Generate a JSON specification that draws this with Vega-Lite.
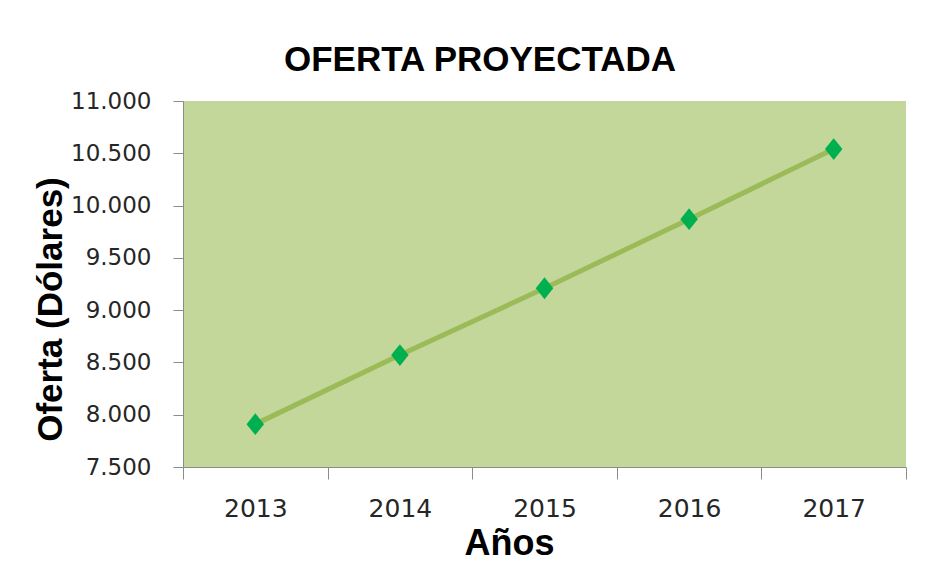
{
  "$schema": "https://vega.github.io/schema/vega-lite/v6.json",
  "width": 723,
  "height": 366,
  "padding": {"left": 33, "top": 43, "right": 30, "bottom": 10},
  "background": "white",
  "config": {
    "view": {"fill": "#C4D79B", "stroke": null}
  },
  "title": {
    "text": "OFERTA PROYECTADA",
    "font": "Liberation Sans",
    "fontSize": 35,
    "fontWeight": "bold",
    "color": "black",
    "anchor": "middle",
    "frame": "bounds",
    "offset": 12,
    "dx": 10
  },
  "data": {
    "values": [
      {"anio": "2013", "oferta": 7910},
      {"anio": "2014", "oferta": 8570},
      {"anio": "2015", "oferta": 9210},
      {"anio": "2016", "oferta": 9870},
      {"anio": "2017", "oferta": 10540}
    ]
  },
  "encoding": {
    "x": {
      "field": "anio",
      "type": "ordinal",
      "title": "Años",
      "scale": {"type": "band", "paddingInner": 0, "paddingOuter": 0},
      "axis": {
        "labelAngle": 0,
        "labelFont": "DejaVu Sans",
        "labelFontSize": 25,
        "labelColor": "#262626",
        "labelPadding": 17,
        "tickBand": "extent",
        "tickSize": 12,
        "tickColor": "#8C8C8C",
        "domainColor": "#8C8C8C",
        "titleFont": "Liberation Sans",
        "titleFontSize": 36,
        "titleFontWeight": "bold",
        "titleColor": "black",
        "titlePadding": 5,
        "titleX": 326
      }
    },
    "y": {
      "field": "oferta",
      "type": "quantitative",
      "title": "Oferta (Dólares)",
      "scale": {"domain": [7500, 11000], "nice": false, "zero": false},
      "axis": {
        "values": [7500, 8000, 8500, 9000, 9500, 10000, 10500, 11000],
        "labelExpr": "replace(format(datum.value, ',.0f'), ',', '.')",
        "grid": false,
        "labelFont": "DejaVu Sans",
        "labelFontSize": 23,
        "labelColor": "#262626",
        "labelPadding": 22,
        "tickSize": 10,
        "tickColor": "#8C8C8C",
        "domainColor": "#8C8C8C",
        "titleFont": "Liberation Sans",
        "titleFontSize": 35,
        "titleFontWeight": "bold",
        "titleColor": "black",
        "titlePadding": 2,
        "titleY": 208
      }
    }
  },
  "layer": [
    {
      "mark": {"type": "line", "color": "#9BBB59", "strokeWidth": 5}
    },
    {
      "mark": {
        "type": "point",
        "shape": "M-0.8,0L0,-1L0.8,0L0,1Z",
        "filled": true,
        "color": "#00B050",
        "size": 480,
        "opacity": 1
      }
    }
  ]
}
